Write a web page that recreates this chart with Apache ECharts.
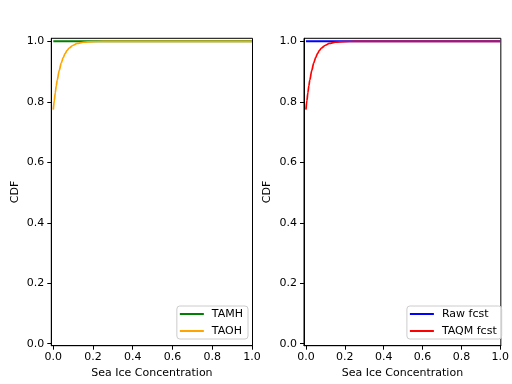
<!DOCTYPE html>
<html>
<head>
<meta charset="utf-8">
<script src="https://cdn.jsdelivr.net/npm/echarts@6/dist/echarts.min.js"></script>
<style>html,body{margin:0;padding:0;background:#fff;}#c{width:512px;height:384px;}</style>
</head>
<body>
<div id="c"></div>
<script>
// Data
const xs = [0, 0.005, 0.01, 0.015, 0.02, 0.03, 0.04, 0.05, 0.06, 0.07, 0.08, 0.10, 0.12, 0.15, 0.20, 0.25, 1.0];
const taoh = [0.774, 0.804, 0.830, 0.853, 0.872, 0.904, 0.928, 0.946, 0.960, 0.970, 0.978, 0.987, 0.993, 0.997, 0.999, 1.0, 1.0];
const taqm = [0.774, 0.804, 0.830, 0.853, 0.872, 0.904, 0.928, 0.946, 0.960, 0.970, 0.978, 0.987, 0.993, 0.997, 0.999, 1.0, 1.0];
const flatX = [0, 1.0];
const tamh = [1.0, 1.0];
const raw = [1.0, 1.0];
const ticks = [0, 0.2, 0.4, 0.6, 0.8, 1.0];
const leftNames = ['TAMH', 'TAOH'];
const rightNames = ['Raw fcst', 'TAQM fcst'];

const pairs = (x, y) => x.map((v, i) => [v, y[i]]);
const font = 'DejaVu Sans';

function xAxis(idx) {
  return {
    type: 'value', gridIndex: idx, min: -0.01, max: 1.003,
    name: 'Sea Ice Concentration', nameLocation: 'middle', nameGap: 22,
    nameTextStyle: {fontFamily: font, fontSize: 11, color: '#000'},
    axisLine: {show: true, onZero: false, lineStyle: {color: '#000', width: 1}},
    axisTick: {show: true, inside: false, length: 4, customValues: ticks, lineStyle: {color: '#000'}},
    axisLabel: {customValues: ticks, margin: 6, fontFamily: font, fontSize: 11, color: '#000',
      formatter: v => v.toFixed(1)},
    splitLine: {show: false}
  };
}
function yAxis(idx) {
  return {
    type: 'value', gridIndex: idx, min: -0.0066, max: 1.01,
    name: 'CDF', nameLocation: 'middle', nameGap: 31, nameRotate: 90,
    nameTextStyle: {fontFamily: font, fontSize: 11, color: '#000'},
    axisLine: {show: true, onZero: false, lineStyle: {color: '#000', width: 1}},
    axisTick: {show: true, inside: false, length: 4, customValues: ticks, lineStyle: {color: '#000'}},
    axisLabel: {customValues: ticks, margin: 7, fontFamily: font, fontSize: 11, color: '#000',
      formatter: v => v.toFixed(1)},
    splitLine: {show: false}
  };
}
function line(name, data, color, xi, w) {
  return {
    name: name, type: 'line', xAxisIndex: xi, yAxisIndex: xi, data: data,
    showSymbol: false, symbol: 'none', smooth: 0.3, smoothMonotone: 'x',
    lineStyle: {color: color, width: w}, itemStyle: {color: color}, animation: false
  };
}
function legend(names, right) {
  return {
    data: names, orient: 'vertical', right: right, bottom: 45,
    icon: 'rect', itemWidth: 24, itemHeight: 2, itemGap: 5,
    padding: [2, 5, 2, 3],
    backgroundColor: 'rgba(255,255,255,0.8)', borderColor: '#cccccc', borderWidth: 1, borderRadius: 3,
    textStyle: {fontFamily: font, fontSize: 11, color: '#000', lineHeight: 12, padding: [0, 0, 0, 3]}
  };
}

const chart = echarts.init(document.getElementById('c'), null, {renderer: 'canvas'});
chart.setOption({
  animation: false,
  backgroundColor: '#fff',
  grid: [
    {left: 51.3, top: 38.3, width: 201.2, height: 307.4, show: true, borderColor: '#000', borderWidth: 1, containLabel: false},
    {left: 304, top: 38.3, width: 202, height: 307.4, show: true, borderColor: '#000', borderWidth: 1, containLabel: false}
  ],
  xAxis: [xAxis(0), xAxis(1)],
  yAxis: [yAxis(0), yAxis(1)],
  legend: [legend(leftNames, 264), legend(rightNames, 10.3)],
  series: [
    line('TAMH', pairs(flatX, tamh), '#008000', 0, 2),
    line('TAOH', pairs(xs, taoh), '#FFA500', 0, 1.7),
    line('Raw fcst', pairs(flatX, raw), '#0000FF', 1, 2),
    line('TAQM fcst', pairs(xs, taqm), '#FF0000', 1, 1.7)
  ]
});
</script>
</body>
</html>
